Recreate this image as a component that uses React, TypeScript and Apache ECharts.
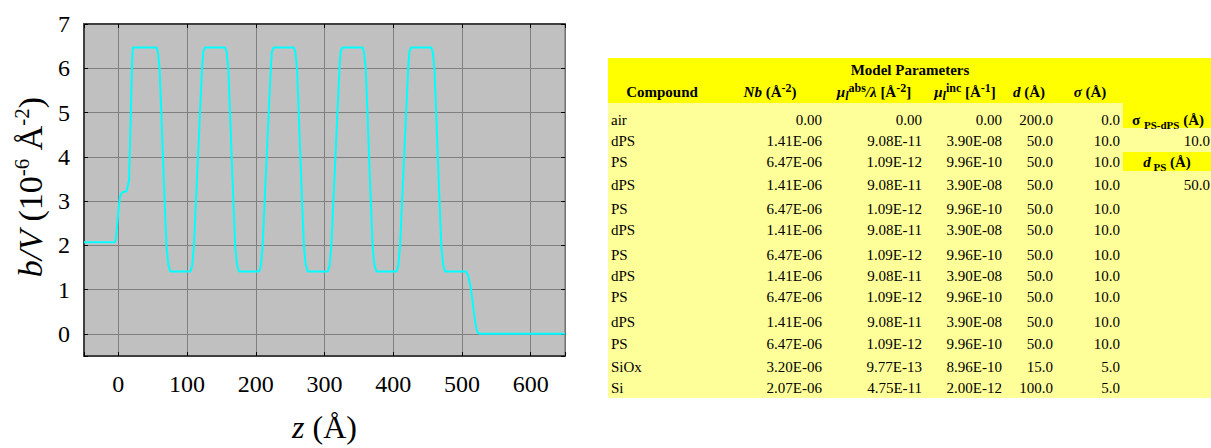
import React, { useEffect, useRef } from 'react';
import * as echarts from 'echarts';

const SERIF = '"Liberation Serif", "Times New Roman", serif';

// Scattering-length-density profile, b/V (10^-6 Å^-2) against depth z (Å).
// Substrate side: Si then the SiOx layer, rising into the first PS layer.
const substrateProfile: [number, number][] = [
  [-50, 2.07], [-5, 2.07], [-3.5, 2.15], [-1.5, 2.5], [0.5, 2.85], [2.5, 3.1],
  [4.5, 3.18], [6, 3.2], [12, 3.22], [15.5, 3.46], [18, 4.9], [20, 6.15], [21, 6.47],
];

// Alternating PS / dPS multilayer.
const multilayerProfile: [number, number][] = [
  [55.5, 6.47], [57.5, 6.37], [60, 6.0], [62.5, 5.0], [65, 3.95], [67.5, 2.95], [70, 2.0], [72.5, 1.58], [75.5, 1.41],
  [105, 1.41], [107.5, 1.55], [110, 2.0], [112.5, 2.85], [115, 3.7], [117.5, 4.55], [120, 5.4], [122, 6.05], [123.5, 6.37], [126, 6.47],
  [155.5, 6.47], [157.5, 6.37], [160, 6.0], [162.5, 5.0], [165, 3.95], [167.5, 2.95], [170, 2.0], [172.5, 1.58], [175.5, 1.41],
  [205, 1.41], [207.5, 1.55], [210, 2.0], [212.5, 2.85], [215, 3.7], [217.5, 4.55], [220, 5.4], [222, 6.05], [223.5, 6.37], [226, 6.47],
  [255.5, 6.47], [257.5, 6.37], [260, 6.0], [262.5, 5.0], [265, 3.95], [267.5, 2.95], [270, 2.0], [272.5, 1.58], [275.5, 1.41],
  [305, 1.41], [307.5, 1.55], [310, 2.0], [312.5, 2.85], [315, 3.7], [317.5, 4.55], [320, 5.4], [322, 6.05], [323.5, 6.37], [326, 6.47],
  [355.5, 6.47], [357.5, 6.37], [360, 6.0], [362.5, 5.0], [365, 3.95], [367.5, 2.95], [370, 2.0], [372.5, 1.58], [375.5, 1.41],
  [405, 1.41], [407.5, 1.55], [410, 2.0], [412.5, 2.85], [415, 3.7], [417.5, 4.55], [420, 5.4], [422, 6.05], [423.5, 6.37], [426, 6.47],
  [455.5, 6.47], [457.5, 6.37], [460, 6.0], [462.5, 5.0], [465, 3.95], [467.5, 2.95], [470, 2.0], [472.5, 1.58], [475.5, 1.41],
];

// Last dPS layer dropping to air.
const airProfile: [number, number][] = [
  [506, 1.41], [509, 1.32], [511.5, 1.15], [514, 0.92], [516.5, 0.6], [519, 0.31],
  [521, 0.12], [523, 0.03], [526, 0], [650, 0],
];

// Model parameter table
const compounds = ['air', 'dPS', 'PS', 'dPS', 'PS', 'dPS', 'PS', 'dPS', 'PS', 'dPS', 'PS', 'SiOx', 'Si'];
const nbValues = ['0.00', '1.41E-06', '6.47E-06', '1.41E-06', '6.47E-06', '1.41E-06', '6.47E-06', '1.41E-06', '6.47E-06', '1.41E-06', '6.47E-06', '3.20E-06', '2.07E-06'];
const muAbsValues = ['0.00', '9.08E-11', '1.09E-12', '9.08E-11', '1.09E-12', '9.08E-11', '1.09E-12', '9.08E-11', '1.09E-12', '9.08E-11', '1.09E-12', '9.77E-13', '4.75E-11'];
const muIncValues = ['0.00', '3.90E-08', '9.96E-10', '3.90E-08', '9.96E-10', '3.90E-08', '9.96E-10', '3.90E-08', '9.96E-10', '3.90E-08', '9.96E-10', '8.96E-10', '2.00E-12'];
const thicknessValues = ['200.0', '50.0', '50.0', '50.0', '50.0', '50.0', '50.0', '50.0', '50.0', '50.0', '50.0', '15.0', '100.0'];
const roughnessValues = ['0.0', '10.0', '10.0', '10.0', '10.0', '10.0', '10.0', '10.0', '10.0', '10.0', '10.0', '5.0', '5.0'];
const sigmaPsDps = '10.0';
const thicknessPs = '50.0';

// table layout
const ROW_Y = [120, 141, 162, 185, 209, 230, 255, 276, 297, 322, 344, 367, 388];
const TABLE_FONT = 15;

const baseTok = { fontFamily: SERIF, fontSize: TABLE_FONT, fill: '#000' };
const richTable = {
  b: { ...baseTok, fontWeight: 'bold', lineHeight: 20 },
  bi: { ...baseTok, fontWeight: 'bold', fontStyle: 'italic', lineHeight: 20 },
  sup: { ...baseTok, fontSize: 12, fontWeight: 'bold', lineHeight: 12, verticalAlign: 'top' },
  sub: { ...baseTok, fontSize: 12, fontWeight: 'bold', fontStyle: 'italic', lineHeight: 12, verticalAlign: 'bottom' },
  subb: { ...baseTok, fontSize: 11, fontWeight: 'bold', lineHeight: 12, verticalAlign: 'bottom' },
};

function cell(text: string, x: number, y: number, align: string, bold = false): any {
  return {
    type: 'text',
    x,
    y,
    silent: true,
    style: {
      text,
      fill: '#000',
      fontFamily: SERIF,
      fontSize: TABLE_FONT,
      fontWeight: bold ? 'bold' : 'normal',
      align,
      textAlign: align,
      verticalAlign: 'middle',
      textVerticalAlign: 'middle',
    },
  };
}

function richCell(text: string, x: number, y: number): any {
  return {
    type: 'text',
    x,
    y,
    silent: true,
    style: {
      text,
      fill: '#000',
      fontFamily: SERIF,
      fontSize: TABLE_FONT,
      fontWeight: 'bold',
      align: 'center',
      textAlign: 'center',
      verticalAlign: 'middle',
      textVerticalAlign: 'middle',
      rich: richTable,
    },
  };
}

function buildTable(): any[] {
  const els: any[] = [];
  const rect = (x: number, y: number, w: number, h: number, fill: string) => ({
    type: 'rect', silent: true, shape: { x, y, width: w, height: h }, style: { fill },
  });
  els.push(rect(608, 58, 603, 45, '#ffff00'));
  els.push(rect(608, 103, 603, 295, '#ffff99'));
  els.push(rect(1123, 103, 88, 25, '#ffff00'));
  els.push(rect(1123, 152, 88, 19, '#ffff00'));

  els.push(cell('Model Parameters', 910, 70, 'center', true));
  els.push(cell('Compound', 662, 92, 'center', true));
  els.push(richCell('{bi|Nb}{b| (Å}{sup|-2}{b|)}', 770, 92));
  els.push(richCell('{bi|μ}{sub|l}{sup|abs}{bi|/λ}{b| [Å}{sup|-2}{b|]}', 874, 92));
  els.push(richCell('{bi|μ}{sub|l}{sup|inc}{b| [Å}{sup|-1}{b|]}', 965, 92));
  els.push(richCell('{bi|d}{b| (Å)}', 1029, 92));
  els.push(richCell('{bi|σ}{b| (Å)}', 1090, 92));

  compounds.forEach((name, i) => {
    const y = ROW_Y[i];
    els.push(cell(name, 611, y, 'left'));
    els.push(cell(nbValues[i], 822, y, 'right'));
    els.push(cell(muAbsValues[i], 922, y, 'right'));
    els.push(cell(muIncValues[i], 1002, y, 'right'));
    els.push(cell(thicknessValues[i], 1053, y, 'right'));
    els.push(cell(roughnessValues[i], 1120, y, 'right'));
  });

  els.push(richCell('{b|σ }{subb|PS-dPS}{b| (Å)}', 1168, ROW_Y[0]));
  els.push(cell(sigmaPsDps, 1210, ROW_Y[1], 'right'));
  els.push(richCell('{bi|d}{subb| PS}{b| (Å)}', 1167, ROW_Y[2]));
  els.push(cell(thicknessPs, 1210, ROW_Y[3], 'right'));
  return els;
}

// Rotated y-axis title with superscripted exponents
function yTitle(): any {
  const tok = { fontFamily: SERIF, fill: '#000' };
  return {
    type: 'text',
    x: 30,
    y: 187,
    rotation: Math.PI / 2,
    silent: true,
    style: {
      text: '{i|b/V}{n| (10}{sup|-6}{n| Å}{sup|-2}{n|)}',
      fill: '#000',
      fontFamily: SERIF,
      fontSize: 34,
      align: 'center',
      textAlign: 'center',
      verticalAlign: 'middle',
      textVerticalAlign: 'middle',
      rich: {
        i: { ...tok, fontSize: 34, fontStyle: 'italic', lineHeight: 38 },
        n: { ...tok, fontSize: 34, lineHeight: 38 },
        sup: { ...tok, fontSize: 21, lineHeight: 22, verticalAlign: 'top' },
      },
    },
  };
}

const axisFont = { fontFamily: SERIF, fontSize: 24, color: '#000' };

export default function App() {
  const ref = useRef<HTMLDivElement>(null);

  useEffect(() => {
    if (!ref.current) return;
    const chart = echarts.init(ref.current, null, { renderer: 'svg' });
    const profile = [...substrateProfile, ...multilayerProfile, ...airProfile];

    const xCommon = {
      type: 'value',
      min: -50,
      max: 650,
      minInterval: 100,
      maxInterval: 100,
      axisTick: { show: true, inside: true, length: 4, lineStyle: { color: '#000', width: 1 } },
    };
    const yCommon = {
      type: 'value',
      min: -0.5,
      max: 7,
      minInterval: 1,
      maxInterval: 1,
      axisTick: { show: true, inside: true, length: 4, lineStyle: { color: '#000', width: 1 } },
    };

    chart.setOption({
      animation: false,
      backgroundColor: '#ffffff',
      grid: {
        left: 84,
        top: 24,
        width: 481,
        height: 336,
        show: true,
        backgroundColor: '#c0c0c0',
        borderColor: '#707070',
        borderWidth: 1,
      },
      xAxis: [
        {
          ...xCommon,
          position: 'bottom',
          axisLine: { show: true, onZero: false, lineStyle: { color: '#404040', width: 2 } },
          axisLabel: {
            ...axisFont,
            margin: 16,
            formatter: (v: number) => (v % 100 === 0 ? String(v) : ''),
          },
          splitLine: { show: true, lineStyle: { color: '#808080', width: 1 } },
          name: '{i|z} (Å)',
          nameLocation: 'middle',
          nameGap: 55,
          nameTextStyle: {
            fontFamily: SERIF,
            fontSize: 32,
            color: '#000',
            rich: { i: { fontFamily: SERIF, fontSize: 32, fontStyle: 'italic', color: '#000' } },
          },
        },
        {
          ...xCommon,
          position: 'top',
          axisLine: { show: true, onZero: false, lineStyle: { color: '#404040', width: 2 } },
          axisLabel: { show: false },
          splitLine: { show: false },
        },
      ],
      yAxis: [
        {
          ...yCommon,
          position: 'left',
          axisLine: { show: true, onZero: false, lineStyle: { color: '#404040', width: 2 } },
          axisLabel: {
            ...axisFont,
            margin: 14,
            formatter: (v: number) => (Number.isInteger(v) ? String(v) : ''),
          },
          splitLine: { show: true, lineStyle: { color: '#808080', width: 1 } },
        },
        {
          ...yCommon,
          position: 'right',
          axisLine: { show: true, onZero: false, lineStyle: { color: '#707070', width: 1 } },
          axisLabel: { show: false },
          splitLine: { show: false },
        },
      ],
      series: [
        {
          type: 'line',
          data: profile,
          xAxisIndex: 0,
          yAxisIndex: 0,
          symbol: 'none',
          showSymbol: false,
          lineStyle: { color: '#00ffff', width: 2 },
          silent: true,
        },
      ],
      graphic: [yTitle(), ...buildTable()],
    });

    return () => chart.dispose();
  }, []);

  return (
    <div
      ref={ref}
      style={{ position: 'fixed', left: 0, top: 0, width: 1211, height: 448, background: '#fff' }}
    />
  );
}
